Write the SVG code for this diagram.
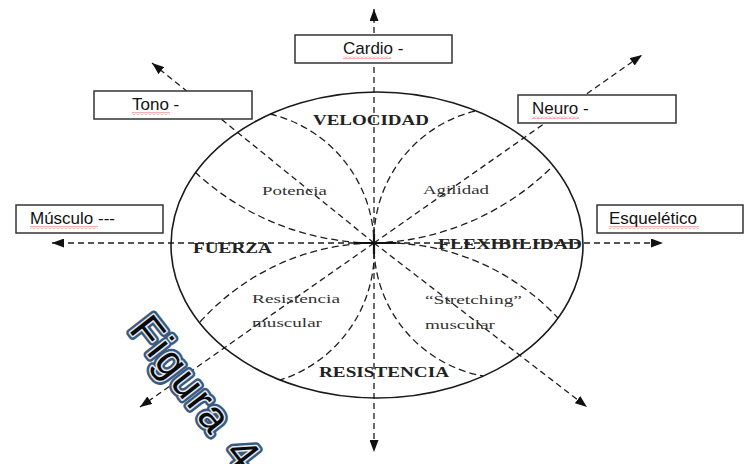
<svg xmlns="http://www.w3.org/2000/svg" width="750" height="464" viewBox="0 0 750 464">
<style>
.ax{stroke:#1e1e1e;stroke-width:1.3;stroke-dasharray:6 4;fill:none}
.cv{stroke:#1e1e1e;stroke-width:1.3;stroke-dasharray:7 4;fill:none}
.box{fill:#fff;stroke:#333;stroke-width:1.5}
.bt{font-family:"Liberation Sans",Arial,sans-serif;font-size:17px;fill:#111}
.big{font-family:"Liberation Serif","Times New Roman",serif;font-weight:bold;font-size:15px;fill:#222}
.sm{font-family:"Liberation Serif","Times New Roman",serif;font-size:13.5px;fill:#333}
.fig{font-family:"Liberation Sans",Arial,sans-serif;font-size:43px}
.f1{fill:#3b5a80;stroke:#3b5a80;stroke-width:8;stroke-linejoin:round}
.f2{fill:#0a0a0a;stroke:#e6ecf3;stroke-width:3;stroke-linejoin:round}
.f3{fill:#0a0a0a}
</style>
<defs>
<marker id="ah" viewBox="0 0 12 9" refX="12" refY="4.5" markerWidth="12" markerHeight="9" markerUnits="userSpaceOnUse" orient="auto">
<path d="M0,0 L12,4.5 L0,9 z" fill="#111"/>
</marker>
<pattern id="wave" width="4" height="3" patternUnits="userSpaceOnUse">
<path d="M0,2.5 L2,0.5 L4,2.5" stroke="#e04040" stroke-width="0.8" fill="none"/>
</pattern>
</defs>
<rect width="750" height="464" fill="#fff"/>

<g id="connectors">
<line class="ax" x1="374" y1="243" x2="374" y2="9" marker-end="url(#ah)"/>
<line class="ax" x1="374" y1="243" x2="374" y2="452" marker-end="url(#ah)"/>
<line class="ax" x1="374" y1="243" x2="52" y2="243" marker-end="url(#ah)"/>
<line class="ax" x1="374" y1="243" x2="663" y2="243" marker-end="url(#ah)"/>
<line class="ax" x1="374" y1="243" x2="152" y2="63" marker-end="url(#ah)"/>
<line class="ax" x1="374" y1="243" x2="587" y2="407" marker-end="url(#ah)"/>
<line class="ax" x1="374" y1="243" x2="642" y2="55" marker-end="url(#ah)"/>
<line class="ax" x1="374" y1="243" x2="140" y2="407" marker-end="url(#ah)"/>
</g>

<g id="wheel">
<ellipse cx="377" cy="245" rx="206" ry="153" fill="none" stroke="#1a1a1a" stroke-width="1.6"/>
<path class="cv" d="M270,114 A135,135 0 0 1 374,243 A135,135 0 0 1 280,380"/>
<path class="cv" d="M475,111 A133,133 0 0 0 374,243 A133,133 0 0 0 483,376"/>
<path class="cv" d="M195,172 A266,266 0 0 0 374,243 A266,266 0 0 0 553,166"/>
<path class="cv" d="M200,322 A238,238 0 0 1 374,243 A238,238 0 0 1 558,318"/>
<path d="M354,243 H396 M374,234 V254" stroke="#111" stroke-width="2.2" fill="none"/>
<text class="big" x="313" y="125" textLength="116" lengthAdjust="spacingAndGlyphs">VELOCIDAD</text>
<text class="big" x="193" y="253" textLength="79" lengthAdjust="spacingAndGlyphs">FUERZA</text>
<text class="big" x="438" y="249" textLength="144" lengthAdjust="spacingAndGlyphs">FLEXIBILIDAD</text>
<text class="big" x="319" y="377" textLength="130" lengthAdjust="spacingAndGlyphs">RESISTENCIA</text>
<text class="sm" x="262" y="195" textLength="65" lengthAdjust="spacingAndGlyphs">Potencia</text>
<text class="sm" x="423" y="194" textLength="66" lengthAdjust="spacingAndGlyphs">Agilidad</text>
<text class="sm" x="252" y="303" textLength="88" lengthAdjust="spacingAndGlyphs">Resistencia</text>
<text class="sm" x="252" y="327" textLength="70" lengthAdjust="spacingAndGlyphs">muscular</text>
<text class="sm" x="425" y="304" textLength="97" lengthAdjust="spacingAndGlyphs">“Stretching”</text>
<text class="sm" x="425" y="329" textLength="70" lengthAdjust="spacingAndGlyphs">muscular</text>
</g>

<g id="cardio">
<rect class="box" x="295" y="35" width="157" height="28"/>
<text class="bt" x="343" y="54">Cardio -</text>
<rect x="343" y="56" width="48" height="3" fill="url(#wave)"/>
</g>
<g id="tono">
<rect class="box" x="94" y="91" width="158" height="28"/>
<text class="bt" x="132" y="110">Tono -</text>
<rect x="132" y="112" width="38" height="3" fill="url(#wave)"/>
</g>
<g id="neuro">
<rect class="box" x="518" y="95" width="158" height="28"/>
<text class="bt" x="532" y="114">Neuro -</text>
<rect x="532" y="116" width="47" height="3" fill="url(#wave)"/>
</g>
<g id="musculo">
<rect class="box" x="16" y="205" width="147" height="28"/>
<text class="bt" x="30" y="224">Músculo ---</text>
<rect x="30" y="226" width="68" height="3" fill="url(#wave)"/>
</g>
<g id="esqueletico">
<rect class="box" x="597" y="205" width="146" height="28"/>
<text class="bt" x="609" y="224">Esquelético</text>
<rect x="609" y="226" width="90" height="3" fill="url(#wave)"/>
</g>

<g id="figura" transform="translate(128,330) rotate(52)">
<text class="fig f1" x="0" y="0" textLength="134" lengthAdjust="spacing">Figura</text>
<text class="fig f1" x="156" y="0">4</text>
<text class="fig f2" x="0" y="0" textLength="134" lengthAdjust="spacing">Figura</text>
<text class="fig f2" x="156" y="0">4</text>
<text class="fig f3" x="0" y="0" textLength="134" lengthAdjust="spacing">Figura</text>
<text class="fig f3" x="156" y="0">4</text>
</g>
</svg>
